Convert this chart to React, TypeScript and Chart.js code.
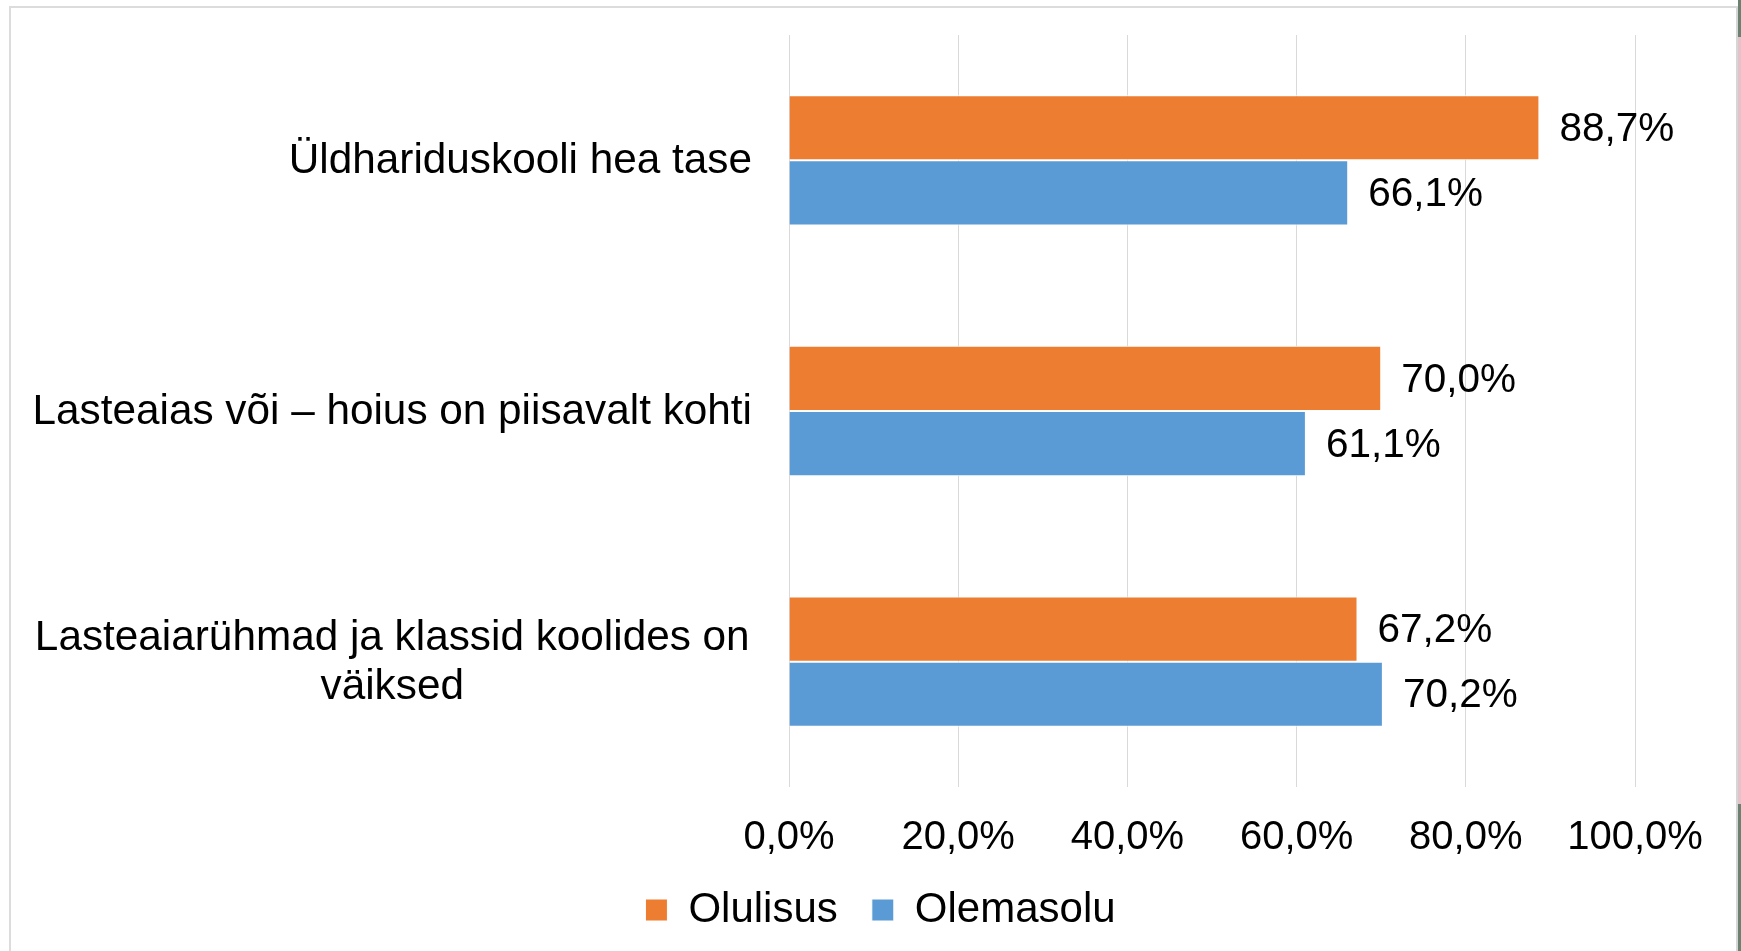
import React, { useEffect, useRef } from "react";
import { Chart, registerables } from "chart.js";

Chart.register(...registerables);

const categories: (string | string[])[] = [
  "Üldhariduskooli hea tase",
  "Lasteaias või – hoius on piisavalt kohti",
  ["Lasteaiarühmad ja klassid koolides on", "väiksed"],
];
const seriesNames = ["Olulisus", "Olemasolu"];
const olulisus = [88.7, 70.0, 67.2];
const olemasolu = [66.1, 61.1, 70.2];
const xTickMin = 0;
const xTickMax = 100;
const xTickStep = 20;

const FONT = "'Liberation Sans', Arial, Helvetica, sans-serif";
const fmt = (v: number) => v.toFixed(1).replace(".", ",") + "%";

const valueLabelPlugin = {
  id: "valueLabels",
  afterDatasetsDraw(chart: any) {
    const ctx = chart.ctx;
    ctx.save();
    ctx.font = `40.5px ${FONT}`;
    ctx.fillStyle = "#000";
    ctx.textAlign = "left";
    ctx.textBaseline = "middle";
    chart.data.datasets.forEach((ds: any, di: number) => {
      const meta = chart.getDatasetMeta(di);
      meta.data.forEach((el: any, i: number) => {
        ctx.fillText(fmt(ds.data[i]), el.x + 20, el.y + 2);
      });
    });
    ctx.restore();
  },
};

const categoryLabelPlugin = {
  id: "categoryLabels",
  afterDraw(chart: any) {
    const ctx = chart.ctx;
    const yScale = chart.scales.y;
    const right = chart.chartArea.left - 37;
    const lineH = 49;
    ctx.save();
    ctx.font = `42.3px ${FONT}`;
    ctx.fillStyle = "#000";
    ctx.textBaseline = "middle";
    let widest = 0;
    chart.data.labels.forEach((lab: any) => {
      const lines = Array.isArray(lab) ? lab : [lab];
      lines.forEach((l: string) => {
        widest = Math.max(widest, ctx.measureText(l).width);
      });
    });
    chart.data.labels.forEach((lab: any, i: number) => {
      const y = yScale.getPixelForTick(i);
      if (Array.isArray(lab)) {
        ctx.textAlign = "center";
        const cx = right - widest / 2;
        const n = lab.length;
        lab.forEach((l: string, k: number) => {
          ctx.fillText(l, cx, y + (k - (n - 1) / 2) * lineH + 1);
        });
      } else {
        ctx.textAlign = "right";
        ctx.fillText(lab, right, y + 1);
      }
    });
    ctx.restore();
  },
};

function BarChart() {
  const ref = useRef<HTMLCanvasElement | null>(null);
  useEffect(() => {
    if (!ref.current) return;
    Chart.defaults.font.family = FONT;
    const chart = new Chart(ref.current, {
      type: "bar",
      data: {
        labels: categories as any,
        datasets: [
          {
            label: seriesNames[0],
            data: olulisus,
            backgroundColor: "#ED7D31",
            borderColor: "#ffffff",
            borderWidth: 1,
            categoryPercentage: 0.52,
            barPercentage: 1,
          },
          {
            label: seriesNames[1],
            data: olemasolu,
            backgroundColor: "#5B9BD5",
            borderColor: "#ffffff",
            borderWidth: 1,
            categoryPercentage: 0.52,
            barPercentage: 1,
          },
        ],
      },
      options: {
        indexAxis: "y",
        responsive: false,
        animation: false,
        devicePixelRatio: 1,
        layout: { padding: { top: 27, right: 101, left: 115, bottom: 10 } },
        scales: {
          x: {
            min: xTickMin,
            max: xTickMax,
            ticks: {
              stepSize: xTickStep,
              callback: (v: any) => fmt(Number(v)),
              font: { size: 40, family: FONT },
              color: "#000",
              padding: 27,
              maxRotation: 0,
            },
            grid: { color: "#d9d9d9", lineWidth: 1, drawTicks: false },
            border: { display: false },
            afterFit: (s: any) => {
              s.height = 68;
              s._computeLabelArea = () => undefined;
            },
          },
          y: {
            ticks: { display: false },
            grid: { display: false },
            border: { display: false },
            afterFit: (s: any) => {
              s.width = 663;
            },
          },
        },
        plugins: {
          legend: {
            position: "bottom",
            labels: {
              boxWidth: 22,
              boxHeight: 22,
              padding: 34,
              color: "#000",
              font: { size: 42, family: FONT },
            },
          },
          tooltip: { enabled: false },
        },
      },
      plugins: [valueLabelPlugin, categoryLabelPlugin],
    } as any);
    return () => chart.destroy();
  }, []);
  return <canvas ref={ref} width={1725} height={943} style={{ display: "block" }} />;
}

export default function App() {
  return (
    <div
      style={{
        position: "fixed",
        left: 0,
        top: 0,
        width: 1741,
        height: 951,
        background: "#fff",
        overflow: "hidden",
      }}
    >
      <div
        style={{
          position: "absolute",
          left: 9,
          top: 6,
          width: 1725,
          height: 960,
          border: "2px solid #dcdcdc",
          borderBottom: "none",
          borderRight: "2px solid #d6d6d6",
        }}
      />
      <div style={{ position: "absolute", left: 11, top: 8 }}>
        <BarChart />
      </div>
      <div style={{ position: "absolute", left: 1738, top: 0, width: 3, height: 37, background: "#6b8270" }} />
      <div style={{ position: "absolute", left: 1738, top: 37, width: 3, height: 767, background: "#e2c3ca" }} />
      <div style={{ position: "absolute", left: 1738, top: 804, width: 3, height: 147, background: "#6b8270" }} />
    </div>
  );
}
